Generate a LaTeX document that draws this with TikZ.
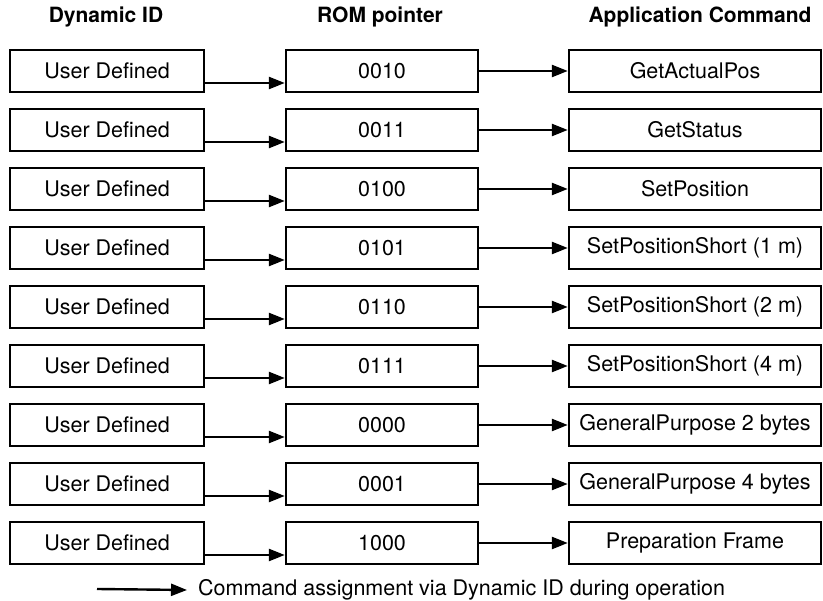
\documentclass[tikz,border=0pt]{standalone}
\usepackage{fontspec}
\setmainfont{TeX Gyre Heros}
\usepackage{tikz}
\usetikzlibrary{arrows.meta}

\tikzset{
  cell/.style={draw,line width=2.4pt,minimum height=42pt,inner sep=0pt,font=\fontsize{21.5}{25}\selectfont},
  idbox/.style={cell,minimum width=194pt},
  rombox/.style={cell,minimum width=192pt},
  cmdbox/.style={cell,minimum width=252pt},
  head/.style={font=\fontsize{21}{25}\selectfont\bfseries},
  assign/.style={line width=2.4pt,-{Triangle[length=16pt,width=12pt]}}
}

\begin{document}
\begin{tikzpicture}[x=1pt,y=-1pt]

\useasboundingbox (0,0) rectangle (823,601);

% ---------------- HEADERS ----------------

\node[head] (H1) at (106,17) {Dynamic ID};
\node[head] (H2) at (380,17) {ROM pointer};
\node[head] (H3) at (700,17) {Application Command};

% ---------------- DYNAMIC ID ----------------

\node[idbox] (U1) at (107,71) {User Defined};
\node[idbox] (U2) at (107,130) {User Defined};
\node[idbox] (U3) at (107,189) {User Defined};
\node[idbox] (U4) at (107,248) {User Defined};
\node[idbox] (U5) at (107,307) {User Defined};
\node[idbox] (U6) at (107,366) {User Defined};
\node[idbox] (U7) at (107,425) {User Defined};
\node[idbox] (U8) at (107,484) {User Defined};
\node[idbox] (U9) at (107,543) {User Defined};

% ---------------- ROM POINTER ----------------

\node[rombox] (R1) at (382,71) {0010};
\node[rombox] (R2) at (382,130) {0011};
\node[rombox] (R3) at (382,189) {0100};
\node[rombox] (R4) at (382,248) {0101};
\node[rombox] (R5) at (382,307) {0110};
\node[rombox] (R6) at (382,366) {0111};
\node[rombox] (R7) at (382,425) {0000};
\node[rombox] (R8) at (382,484) {0001};
\node[rombox] (R9) at (382,543) {1000};

% ---------------- APPLICATION COMMAND ----------------

\node[cmdbox] (A1) at (695,71) {GetActualPos};
\node[cmdbox] (A2) at (695,130) {GetStatus};
\node[cmdbox] (A3) at (695,189) {SetPosition};
\node[cmdbox] (A4) at (695,248) {SetPositionShort (1 m)};
\node[cmdbox] (A5) at (695,307) {SetPositionShort (2 m)};
\node[cmdbox] (A6) at (695,366) {SetPositionShort (4 m)};
\node[cmdbox] (A7) at (695,425) {GeneralPurpose 2 bytes};
\node[cmdbox] (A8) at (695,484) {GeneralPurpose 4 bytes};
\node[cmdbox] (A9) at (695,543) {Preparation Frame};

% ---------------- ASSIGNMENTS ----------------

\draw[assign] ([yshift=-12pt]U1.east)--([yshift=-12pt]R1.west);
\draw[assign] ([yshift=-12pt]U2.east)--([yshift=-12pt]R2.west);
\draw[assign] ([yshift=-12pt]U3.east)--([yshift=-12pt]R3.west);
\draw[assign] ([yshift=-12pt]U4.east)--([yshift=-12pt]R4.west);
\draw[assign] ([yshift=-12pt]U5.east)--([yshift=-12pt]R5.west);
\draw[assign] ([yshift=-12pt]U6.east)--([yshift=-12pt]R6.west);
\draw[assign] ([yshift=-12pt]U7.east)--([yshift=-12pt]R7.west);
\draw[assign] ([yshift=-12pt]U8.east)--([yshift=-12pt]R8.west);
\draw[assign] ([yshift=-12pt]U9.east)--([yshift=-12pt]R9.west);

\draw[assign] (R1.east)--(A1.west);
\draw[assign] (R2.east)--(A2.west);
\draw[assign] (R3.east)--(A3.west);
\draw[assign] (R4.east)--(A4.west);
\draw[assign] (R5.east)--(A5.west);
\draw[assign] (R6.east)--(A6.west);
\draw[assign] (R7.east)--(A7.west);
\draw[assign] (R8.east)--(A8.west);
\draw[assign] (R9.east)--(A9.west);

% ---------------- LEGEND ----------------

\coordinate (L0) at (97,589);
\node[anchor=west,inner xsep=11pt,font=\fontsize{21.5}{25}\selectfont] (L1) at (187,590) {Command assignment via Dynamic ID during operation};
\draw[assign] (L0)--(L1.west);

\end{tikzpicture}
\end{document}
